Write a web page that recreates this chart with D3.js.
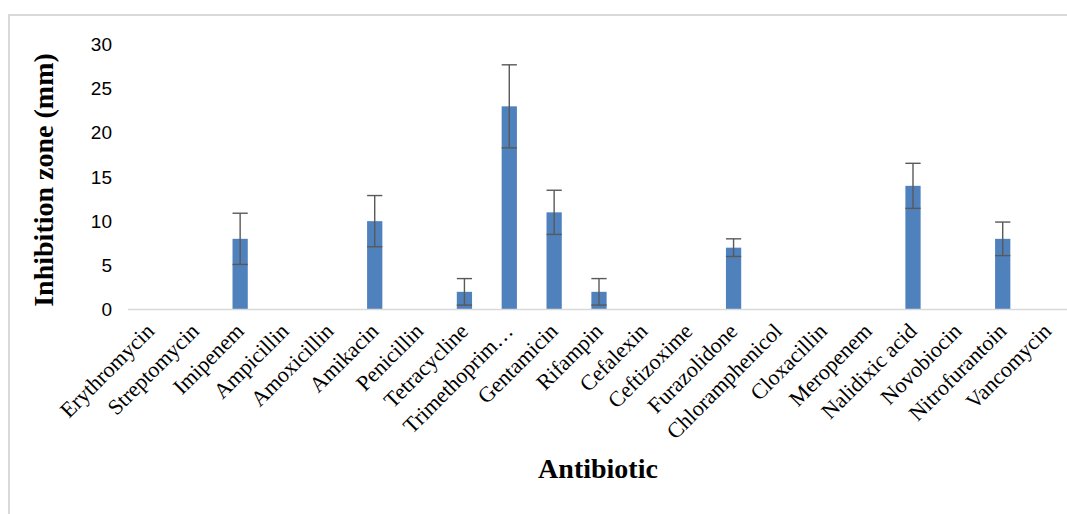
<!DOCTYPE html>
<html>
<head>
<meta charset="utf-8">
<script src="https://cdn.jsdelivr.net/npm/d3@7"></script>
<style>
  body { margin: 0; background: #fff; }
</style>
</head>
<body>
<div id="chart"></div>
<script>
const antibiotics = ["Erythromycin", "Streptomycin", "Imipenem", "Ampicillin", "Amoxicillin", "Amikacin",
  "Penicillin", "Tetracycline", "Trimethoprim…", "Gentamicin", "Rifampin", "Cefalexin", "Ceftizoxime",
  "Furazolidone", "Chloramphenicol", "Cloxacillin", "Meropenem", "Nalidixic acid", "Novobiocin",
  "Nitrofurantoin", "Vancomycin"];
const zones = [0, 0, 8, 0, 0, 10, 0, 2, 23, 11, 2, 0, 0, 7, 0, 0, 0, 14, 0, 8, 0];
const errors = [0, 0, 2.9, 0, 0, 2.9, 0, 1.5, 4.7, 2.5, 1.5, 0, 0, 1, 0, 0, 0, 2.55, 0, 1.9, 0];
const yTicks = [0, 5, 10, 15, 20, 25, 30];

const width = 1067,
  height = 514;

const data = antibiotics.map((name, i) => ({ name, value: zones[i], err: errors[i] }));

const svg = d3.select("#chart").append("svg").attr("width", width).attr("height", height);

// chart frame
svg.append("rect")
  .attr("x", 9).attr("y", 15)
  .attr("width", 1080).attr("height", 520)
  .attr("fill", "#fff")
  .attr("stroke", "#d9d9d9")
  .attr("stroke-width", 2);

const x = d3.scaleBand().domain(antibiotics).range([128, 1070]).paddingInner(0.66).paddingOuter(0.33);
const y = d3.scaleLinear().domain([0, 30]).range([309.5, 44.5]);

// y tick labels (no axis line)
svg.append("g")
  .selectAll("text")
  .data(yTicks)
  .join("text")
  .attr("x", 112)
  .attr("y", (d) => y(d))
  .attr("dy", "0.35em")
  .attr("text-anchor", "end")
  .attr("font-family", "Liberation Sans, Arial, sans-serif")
  .attr("font-size", 19)
  .attr("fill", "#000")
  .text((d) => d);

// bars
svg.append("g")
  .selectAll("rect")
  .data(data.filter((d) => d.value > 0))
  .join("rect")
  .attr("x", (d) => x(d.name))
  .attr("y", (d) => y(d.value))
  .attr("width", x.bandwidth())
  .attr("height", (d) => y(0) - y(d.value))
  .attr("fill", "#4f81bd");

// baseline
svg.append("line")
  .attr("x1", 128).attr("x2", 1070)
  .attr("y1", y(0)).attr("y2", y(0))
  .attr("stroke", "#d9d9d9")
  .attr("stroke-width", 1.5);

// error bars
const eb = svg.append("g").attr("stroke", "#595959").attr("stroke-width", 1.4).attr("fill", "none");
const withErr = data.filter((d) => d.err > 0);
const cx = (d) => x(d.name) + x.bandwidth() / 2;
const cap = x.bandwidth() / 2;
eb.selectAll(".stem").data(withErr).join("line")
  .attr("x1", cx).attr("x2", cx)
  .attr("y1", (d) => y(d.value + d.err))
  .attr("y2", (d) => y(d.value - d.err));
eb.selectAll(".top").data(withErr).join("line")
  .attr("x1", (d) => cx(d) - cap).attr("x2", (d) => cx(d) + cap)
  .attr("y1", (d) => y(d.value + d.err)).attr("y2", (d) => y(d.value + d.err));
eb.selectAll(".bot").data(withErr).join("line")
  .attr("x1", (d) => cx(d) - cap).attr("x2", (d) => cx(d) + cap)
  .attr("y1", (d) => y(d.value - d.err)).attr("y2", (d) => y(d.value - d.err));

// x axis labels, rotated
const xAxis = svg.append("g")
  .attr("transform", `translate(0,${y(0)})`)
  .call(d3.axisBottom(x).tickSize(0).tickPadding(0));
xAxis.select(".domain").remove();
xAxis.selectAll("text")
  .attr("font-family", "Liberation Serif, Times New Roman, serif")
  .attr("font-size", 22)
  .attr("fill", "#000")
  .attr("text-anchor", "end")
  .attr("dy", 0)
  .attr("y", 0)
  .attr("transform", "translate(5,23) rotate(-45)");

// axis titles
svg.append("text")
  .attr("transform", "translate(53,180) rotate(-90)")
  .attr("text-anchor", "middle")
  .attr("font-family", "Liberation Serif, Times New Roman, serif")
  .attr("font-weight", "bold")
  .attr("font-size", 28)
  .attr("fill", "#000")
  .text("Inhibition zone (mm)");

svg.append("text")
  .attr("x", 598)
  .attr("y", 478)
  .attr("text-anchor", "middle")
  .attr("font-family", "Liberation Serif, Times New Roman, serif")
  .attr("font-weight", "bold")
  .attr("font-size", 28)
  .attr("fill", "#000")
  .text("Antibiotic");
</script>
</body>
</html>
